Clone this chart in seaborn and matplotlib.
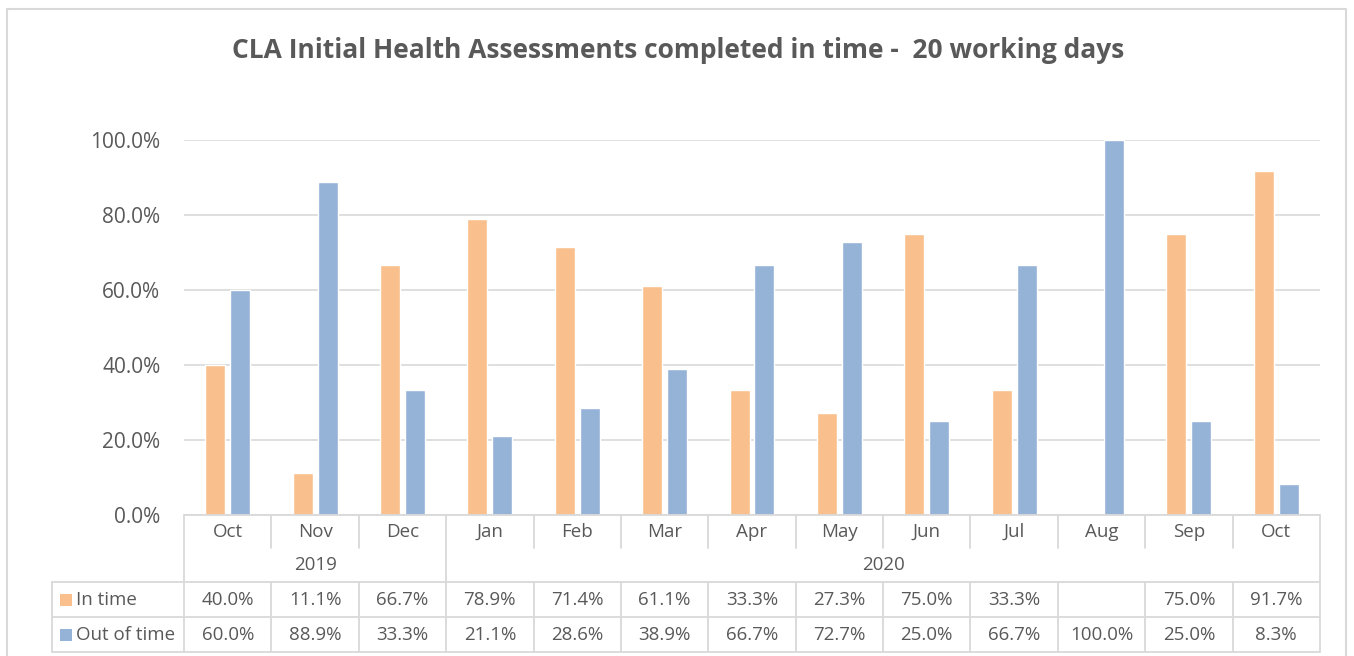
import numpy as np
import pandas as pd
import matplotlib
matplotlib.use('Agg')
import matplotlib.pyplot as plt
import seaborn as sns
from matplotlib.transforms import blended_transform_factory
from matplotlib.lines import Line2D
from matplotlib.patches import Rectangle

# ---- data ----
months = ['Oct', 'Nov', 'Dec', 'Jan', 'Feb', 'Mar', 'Apr', 'May', 'Jun', 'Jul', 'Aug', 'Sep', 'Oct']
years = ['2019'] * 3 + ['2020'] * 10
year_labels = ['2019', '2020']
series = ['In time', 'Out of time']
in_time = [40.0, 11.1, 66.7, 78.9, 71.4, 61.1, 33.3, 27.3, 75.0, 33.3, np.nan, 75.0, 91.7]
out_time = [60.0, 88.9, 33.3, 21.1, 28.6, 38.9, 66.7, 72.7, 25.0, 66.7, 100.0, 25.0, 8.3]
yticks = [0, 20, 40, 60, 80, 100]
title = 'CLA Initial Health Assessments completed in time -  20 working days'

colors = ['#F9C08D', '#95B3D7']
txt_c = '#595959'
line_c = '#D9D9D9'

sns.set_theme(style='white')
plt.rcParams['font.family'] = ['Open Sans', 'DejaVu Sans']

W, H = 1354, 656
fig = plt.figure(figsize=(W / 100, H / 100), dpi=100)
ax = fig.add_axes([184 / W, 1 - 515 / H, (1320 - 184) / W, (515 - 140) / H])

keys = [f'{m} {y}' for m, y in zip(months, years)]
df = pd.DataFrame({
    'key': keys * 2,
    'series': [series[0]] * len(keys) + [series[1]] * len(keys),
    'value': in_time + out_time,
})
sns.barplot(data=df, x='key', y='value', hue='series', order=keys, hue_order=series,
            palette=colors, width=0.572, gap=0.2, saturation=1, errorbar=None,
            legend=False, ax=ax)

ax.set_xlim(-0.5, len(keys) - 0.5)
ax.set_ylim(0, 100)
ax.set_yticks(yticks)
ax.set_yticklabels([f'{v:.1f}%' for v in yticks], color=txt_c, fontsize=15)
ax.tick_params(axis='y', length=0, pad=17)
ax.set_xticks([])
ax.set_xlabel('')
ax.set_ylabel('')
ax.grid(axis='y', color=line_c, lw=1.2)
ax.set_axisbelow(True)
for s in ax.spines.values():
    s.set_visible(False)

# ---- data table below ----
bt = blended_transform_factory(ax.transData, fig.transFigure)
def fy(px):
    return 1 - px / H
def fx(px):
    return px / W

n = len(keys)
row_top = 582
# top axis line
fig.add_artist(Line2D([-0.5, n - 0.5], [fy(515), fy(515)], transform=bt, color=line_c, lw=1.3))
# horizontal lines of data rows
for py in [row_top, 617, 652]:
    fig.add_artist(Line2D([fx(52), fx(1320)], [fy(py), fy(py)], transform=fig.transFigure, color=line_c, lw=1.3))
# left column border
fig.add_artist(Line2D([fx(52), fx(52)], [fy(row_top), fy(652)], transform=fig.transFigure, color=line_c, lw=1.3))
# vertical separators
for i in range(n + 1):
    xb = i - 0.5
    if i == 0 or i == n or years[i - 1] != years[i]:
        top = 515
    else:
        top = row_top
    fig.add_artist(Line2D([xb, xb], [fy(top), fy(652)], transform=bt, color=line_c, lw=1.3))
    if top == row_top:
        fig.add_artist(Line2D([xb, xb], [fy(515), fy(548)], transform=bt, color=line_c, lw=1.3))

fs = 13.5
for i, m in enumerate(months):
    fig.text(i, fy(532), m, transform=bt, ha='center', va='center', color=txt_c, fontsize=fs)
    if not np.isnan(in_time[i]):
        fig.text(i, fy(600), f'{in_time[i]:.1f}%', transform=bt, ha='center', va='center', color=txt_c, fontsize=fs)
    if not np.isnan(out_time[i]):
        fig.text(i, fy(635), f'{out_time[i]:.1f}%', transform=bt, ha='center', va='center', color=txt_c, fontsize=fs)
for yl in year_labels:
    idx = [i for i, y in enumerate(years) if y == yl]
    xc = (idx[0] + idx[-1]) / 2
    fig.text(xc, fy(565), yl, transform=bt, ha='center', va='center', color=txt_c, fontsize=fs)

# legend keys in table
for s, c, py in zip(series, colors, [600, 635]):
    fig.add_artist(Rectangle((fx(60), fy(py + 6)), 12 / W, 12 / H, transform=fig.transFigure,
                             facecolor=c, edgecolor='none'))
    fig.text(fx(76), fy(py), s, transform=fig.transFigure, ha='left', va='center', color=txt_c, fontsize=fs)

# chart border
fig.add_artist(Line2D([fx(7), fx(7), fx(1346), fx(1346)], [0, fy(9), fy(9), 0],
                      transform=fig.transFigure, color=line_c, lw=1.5))

fig.text(fx(678), fy(51), title, ha='center', va='center', color=txt_c, fontsize=19, fontweight='bold')

fig.savefig('out.png', dpi=100, facecolor='white')
